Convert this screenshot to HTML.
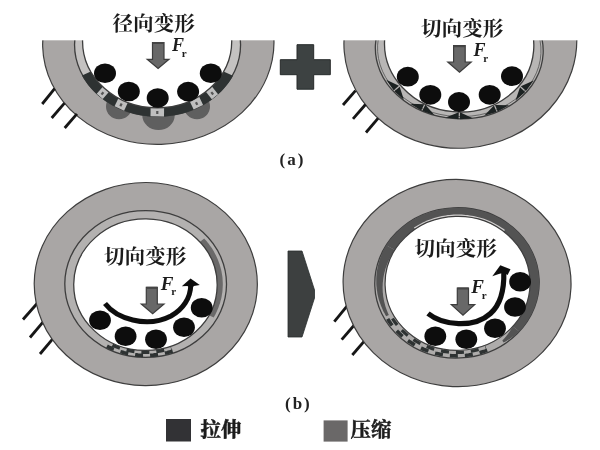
<!DOCTYPE html>
<html lang="zh"><head><meta charset="utf-8"><title>Bearing deformation diagram</title>
<style>html,body{margin:0;padding:0;background:#fff;}body{width:600px;height:450px;overflow:hidden;font-family:"Liberation Serif",serif;}svg{display:block;}</style>
</head><body>
<svg width="600" height="450" viewBox="0 0 600 450">
<defs><filter id="soft" x="0" y="0" width="600" height="450" filterUnits="userSpaceOnUse"><feGaussianBlur stdDeviation="0.55"/></filter></defs>
<rect width="600" height="450" fill="#fff"/>
<g filter="url(#soft)">
<rect x="-5" y="-5" width="610" height="460" fill="#fff"/>
<ellipse cx="158.31" cy="43.33" rx="115.68" ry="101.05" transform="rotate(-1.67 158.31 43.33)" fill="#a9a6a5" stroke="#3e3e3e" stroke-width="1.2"/>
<ellipse cx="119" cy="106.5" rx="13" ry="12.8" fill="#5f5e5e"/>
<ellipse cx="158.5" cy="115.3" rx="16.2" ry="14.7" fill="#5f5e5e"/>
<ellipse cx="197" cy="106.5" rx="13" ry="12.8" fill="#5f5e5e"/>
<ellipse cx="157.56" cy="44.83" rx="83.02" ry="71.23" fill="#c4c2c1" stroke="#3e3e3e" stroke-width="1.3"/>
<path d="M233.0 75.7 L231.0 79.2 L228.8 82.4 L226.4 85.6 L223.9 88.6 L221.2 91.5 L218.4 94.1 L215.4 96.7 L212.4 99.1 L209.3 101.3 L206.1 103.3 L202.8 105.2 L199.5 107.0 L196.1 108.6 L192.7 110.0 L189.2 111.3 L185.8 112.5 L182.3 113.5 L178.7 114.3 L175.2 115.0 L171.6 115.6 L168.0 116.1 L164.5 116.4 L160.9 116.6 L157.3 116.7 L153.7 116.6 L150.1 116.4 L146.6 116.0 L143.0 115.6 L139.4 115.0 L135.9 114.2 L132.4 113.3 L128.9 112.3 L125.4 111.1 L122.0 109.8 L118.6 108.4 L115.2 106.8 L111.9 105.0 L108.7 103.1 L105.5 101.1 L102.4 98.8 L99.4 96.5 L96.5 93.9 L93.7 91.2 L91.1 88.4 L88.5 85.4 L86.2 82.2 L84.0 79.0 L82.0 75.5 L90.8 71.6 L92.7 74.6 L94.6 77.4 L96.8 80.2 L99.0 82.8 L101.4 85.3 L103.8 87.7 L106.4 89.9 L109.0 92.0 L111.7 94.0 L114.5 95.8 L117.4 97.5 L120.3 99.0 L123.2 100.5 L126.2 101.8 L129.2 102.9 L132.3 103.9 L135.3 104.9 L138.4 105.6 L141.6 106.3 L144.7 106.8 L147.8 107.2 L151.0 107.5 L154.1 107.7 L157.3 107.8 L160.5 107.7 L163.6 107.5 L166.8 107.2 L169.9 106.8 L173.0 106.2 L176.1 105.6 L179.2 104.8 L182.3 103.9 L185.3 102.8 L188.3 101.6 L191.3 100.3 L194.3 98.9 L197.1 97.4 L200.0 95.7 L202.8 93.8 L205.5 91.9 L208.1 89.8 L210.6 87.5 L213.1 85.2 L215.4 82.7 L217.6 80.1 L219.7 77.3 L221.7 74.5 L223.5 71.5Z" fill="#2d3333"/>
<g transform="translate(102.9 92.8) rotate(-139.0)"><rect x="-4.0" y="-4.8" width="8" height="9.6" fill="#bfbfbf"/><rect x="-1.1" y="-2.2" width="2.2" height="3" fill="#555"/></g>
<g transform="translate(121.3 104.3) rotate(-154.9)"><rect x="-5.25" y="-4.6" width="10.5" height="9.2" fill="#bfbfbf"/><rect x="-1.1" y="-2.2" width="2.2" height="3" fill="#555"/></g>
<g transform="translate(157.3 111.9) rotate(-179.2)"><rect x="-6.75" y="-4.4" width="13.5" height="8.9" fill="#bfbfbf"/><rect x="-1.1" y="-2.2" width="2.2" height="3" fill="#555"/></g>
<g transform="translate(196.3 102.9) rotate(154.4)"><rect x="-5.25" y="-4.8" width="10.5" height="9.6" fill="#bfbfbf"/><rect x="-1.1" y="-2.2" width="2.2" height="3" fill="#555"/></g>
<g transform="translate(211.8 92.8) rotate(141.1)"><rect x="-4.0" y="-5.0" width="8" height="10.1" fill="#bfbfbf"/><rect x="-1.1" y="-2.2" width="2.2" height="3" fill="#555"/></g>
<ellipse cx="157.14" cy="40.96" rx="74.6" ry="66.81" fill="#fff" stroke="#3e3e3e" stroke-width="1.3"/>
<ellipse cx="105.0" cy="73.2" rx="11" ry="9.8" fill="#0e0e0e"/><ellipse cx="128.8" cy="91.5" rx="11" ry="9.8" fill="#0e0e0e"/><ellipse cx="157.7" cy="98.0" rx="11" ry="9.8" fill="#0e0e0e"/><ellipse cx="188.1" cy="91.6" rx="11" ry="9.8" fill="#0e0e0e"/><ellipse cx="210.8" cy="73.3" rx="11" ry="9.8" fill="#0e0e0e"/>
<ellipse cx="460.36" cy="41.83" rx="116.52" ry="106.33" transform="rotate(-5.04 460.36 41.83)" fill="#a9a6a5" stroke="#3e3e3e" stroke-width="1.2"/>
<ellipse cx="459.27" cy="49.4" rx="83.97" ry="69.38" transform="rotate(2.95 459.27 49.4)" fill="#b8b6b5" stroke="#3e3e3e" stroke-width="1.3"/>
<ellipse cx="459.27" cy="49.4" rx="81.77" ry="67.17999999999999" transform="rotate(2.95 459.27 49.4)" fill="none" stroke="#555" stroke-width="0.8"/>
<ellipse cx="459.17" cy="44.46" rx="74.7" ry="67.47" transform="rotate(4.91 459.17 44.46)" fill="#fff" stroke="#3e3e3e" stroke-width="1.3"/>
<g transform="translate(396.9 88.3) rotate(49.1)"><path d="M-0.6 -3.2 L-13.5 2.4 L-0.6 3.8Z M0.6 -3.2 L13.5 2.4 L0.6 3.8Z" fill="#1e2222"/></g>
<g transform="translate(423.4 107.4) rotate(25.2)"><path d="M-0.6 -3.2 L-13.5 2.4 L-0.6 3.8Z M0.6 -3.2 L13.5 2.4 L0.6 3.8Z" fill="#1e2222"/></g>
<g transform="translate(459.3 115.4) rotate(1.6)"><path d="M-0.6 -3.2 L-13.5 2.4 L-0.6 3.8Z M0.6 -3.2 L13.5 2.4 L0.6 3.8Z" fill="#1e2222"/></g>
<g transform="translate(495.7 108.3) rotate(337.5)"><path d="M-0.6 -3.2 L-13.5 2.4 L-0.6 3.8Z M0.6 -3.2 L13.5 2.4 L0.6 3.8Z" fill="#1e2222"/></g>
<g transform="translate(522.8 88.9) rotate(312.3)"><path d="M-0.6 -3.2 L-13.5 2.4 L-0.6 3.8Z M0.6 -3.2 L13.5 2.4 L0.6 3.8Z" fill="#1e2222"/></g>
<ellipse cx="407.8" cy="76.7" rx="11" ry="9.9" fill="#0e0e0e"/><ellipse cx="430.3" cy="94.8" rx="11" ry="9.9" fill="#0e0e0e"/><ellipse cx="459.0" cy="102.0" rx="11" ry="9.9" fill="#0e0e0e"/><ellipse cx="489.7" cy="94.8" rx="11" ry="9.9" fill="#0e0e0e"/><ellipse cx="512.0" cy="76.2" rx="11" ry="9.9" fill="#0e0e0e"/>
<rect x="0" y="0" width="600" height="40.3" fill="#fff"/>
<line x1="42.2" y1="104.0" x2="54.6" y2="88.7" stroke="#141414" stroke-width="2.8"/><line x1="51.7" y1="118.0" x2="64.5" y2="103.2" stroke="#141414" stroke-width="2.8"/><line x1="64.7" y1="128.0" x2="76.9" y2="113.8" stroke="#141414" stroke-width="2.8"/>
<path d="M152.5 42.5 H164 V59.3 H169 L158.1 68.5 L147.2 59.3 H152.5 Z" fill="#686868" stroke="#3c3c3c" stroke-width="1.2"/><rect x="152.5" y="42.0" width="11.5" height="2" fill="#444"/>
<g opacity="0.999"><text x="172" y="51" font-family="Liberation Serif, serif" font-weight="bold" font-style="italic" font-size="18" fill="#1a1a1a">F<tspan font-size="11" font-style="normal" dx="-2.2" dy="5.5">r</tspan></text></g>
<text x="112.5" y="31" font-family="'Liberation Serif', 'Noto Serif CJK SC', serif" font-weight="bold" font-size="20.6" fill="#1c1c1c">径向变形</text>
<path d="M297 44.7 H313.7 V59.7 H330.3 V74.7 H313.7 V89.2 H297 V74.7 H280.3 V59.7 H297 Z" fill="#3e4343" stroke="#262a2a" stroke-width="1"/>
<line x1="343.0" y1="105.0" x2="355.5" y2="90.7" stroke="#141414" stroke-width="2.8"/><line x1="353.0" y1="118.8" x2="365.5" y2="104.5" stroke="#141414" stroke-width="2.8"/><line x1="366.0" y1="132.5" x2="378.0" y2="118.3" stroke="#141414" stroke-width="2.8"/>
<path d="M453.6 45.7 H465.2 V62 H471.2 L459.5 72.2 L447.8 62 H453.6 Z" fill="#686868" stroke="#3c3c3c" stroke-width="1.2"/><rect x="453.6" y="45.2" width="11.599999999999966" height="2" fill="#444"/>
<g opacity="0.999"><text x="473.5" y="56" font-family="Liberation Serif, serif" font-weight="bold" font-style="italic" font-size="18" fill="#1a1a1a">F<tspan font-size="11" font-style="normal" dx="-2.2" dy="5.5">r</tspan></text></g>
<text x="421" y="36.3" font-family="'Liberation Serif', 'Noto Serif CJK SC', serif" font-weight="bold" font-size="20.6" fill="#1c1c1c">切向变形</text>
<text x="279.5" y="164.6" font-family="Liberation Serif, serif" font-weight="bold" font-size="17" letter-spacing="2" fill="#222">(a)</text>
<line x1="23.0" y1="319.5" x2="37.5" y2="303.0" stroke="#141414" stroke-width="2.8"/><line x1="30.0" y1="337.5" x2="43.8" y2="321.2" stroke="#141414" stroke-width="2.8"/><line x1="40.0" y1="354.0" x2="53.8" y2="337.7" stroke="#141414" stroke-width="2.8"/>
<ellipse cx="145.78" cy="284.07" rx="111.56" ry="101.55" transform="rotate(0.43 145.78 284.07)" fill="#a9a6a5" stroke="#3e3e3e" stroke-width="1.2"/>
<ellipse cx="145.66" cy="283.99" rx="80.85" ry="73.37" transform="rotate(0.16 145.66 283.99)" fill="#b3b1b0" stroke="#3e3e3e" stroke-width="1.3"/>
<path d="M204.2 238.5 L205.3 239.8 L206.5 241.1 L207.6 242.5 L208.7 243.8 L209.7 245.2 L210.8 246.7 L211.8 248.1 L212.7 249.6 L213.6 251.1 L214.5 252.7 L215.3 254.2 L216.1 255.8 L216.9 257.4 L217.6 259.0 L218.3 260.7 L218.9 262.4 L219.5 264.0 L220.0 265.7 L220.5 267.5 L221.0 269.2 L221.4 270.9 L221.7 272.7 L222.0 274.5 L222.3 276.2 L222.5 278.0 L222.6 279.8 L222.7 281.6 L222.8 283.4 L222.8 285.2 L222.7 287.0 L222.6 288.8 L222.5 290.6 L222.3 292.4 L222.0 294.1 L221.7 295.9 L221.4 297.7 L221.0 299.4 L220.5 301.1 L220.1 302.9 L219.5 304.6 L218.9 306.3 L218.3 307.9 L217.6 309.6 L216.9 311.2 L216.2 312.8 L215.4 314.4 L214.5 316.0 L213.7 317.5 L209.0 315.2 L209.8 313.8 L210.6 312.3 L211.3 310.9 L212.0 309.3 L212.7 307.8 L213.3 306.3 L213.8 304.7 L214.3 303.1 L214.8 301.6 L215.3 300.0 L215.7 298.3 L216.0 296.7 L216.3 295.1 L216.6 293.4 L216.8 291.8 L216.9 290.1 L217.1 288.5 L217.1 286.8 L217.2 285.1 L217.2 283.5 L217.1 281.8 L217.0 280.1 L216.8 278.5 L216.6 276.8 L216.4 275.2 L216.1 273.6 L215.8 271.9 L215.4 270.3 L215.0 268.7 L214.5 267.1 L214.0 265.5 L213.5 264.0 L212.9 262.4 L212.3 260.9 L211.6 259.4 L210.9 257.9 L210.2 256.5 L209.4 255.0 L208.6 253.6 L207.7 252.2 L206.8 250.8 L205.9 249.5 L205.0 248.1 L204.0 246.8 L203.0 245.6 L202.0 244.3 L200.9 243.1 L199.8 241.9Z" fill="#6a6969"/>
<ellipse cx="145.45" cy="284.71" rx="71.73" ry="65.75" transform="rotate(0.66 145.45 284.71)" fill="#fff" stroke="#3e3e3e" stroke-width="1.3"/>
<path d="M172.6 351.1 L171.2 351.5 L169.9 351.9 L168.5 352.3 L167.2 352.7 L165.8 353.0 L164.4 353.4 L163.1 353.7 L161.7 353.9 L160.3 354.2 L158.9 354.4 L157.5 354.6 L156.1 354.8 L154.7 354.9 L153.4 355.1 L152.0 355.2 L150.6 355.3 L149.2 355.4 L147.8 355.4 L146.4 355.4 L145.0 355.4 L143.6 355.4 L142.2 355.4 L140.8 355.3 L139.4 355.2 L138.0 355.1 L136.6 354.9 L135.2 354.8 L133.8 354.6 L132.4 354.4 L131.1 354.2 L129.7 353.9 L128.3 353.7 L126.9 353.4 L125.6 353.0 L124.2 352.7 L122.8 352.3 L121.5 351.9 L120.1 351.5 L118.8 351.1 L117.4 350.6 L116.1 350.2 L114.8 349.6 L113.5 349.1 L112.1 348.6 L110.8 348.0 L109.5 347.4 L108.3 346.8 L107.0 346.1" fill="none" stroke="#2d3333" stroke-width="3.6" stroke-dasharray="8 7"/>
<path d="M171.4 348.2 L170.1 348.6 L168.8 349.0 L167.5 349.4 L166.2 349.7 L164.9 350.1 L163.6 350.4 L162.3 350.7 L161.0 350.9 L159.7 351.2 L158.3 351.4 L157.0 351.6 L155.7 351.8 L154.4 351.9 L153.0 352.1 L151.7 352.2 L150.4 352.3 L149.0 352.3 L147.7 352.4 L146.3 352.4 L145.0 352.4 L143.7 352.4 L142.3 352.3 L141.0 352.3 L139.7 352.2 L138.3 352.1 L137.0 351.9 L135.7 351.8 L134.3 351.6 L133.0 351.4 L131.7 351.2 L130.4 350.9 L129.0 350.7 L127.7 350.4 L126.4 350.1 L125.1 349.8 L123.8 349.4 L122.5 349.0 L121.2 348.6 L119.9 348.2 L118.7 347.8 L117.4 347.3 L116.1 346.8 L114.9 346.3 L113.6 345.8 L112.4 345.2 L111.1 344.6 L109.9 344.0 L108.7 343.4" fill="none" stroke="#2d3333" stroke-width="3.2" stroke-dasharray="8 7" stroke-dashoffset="7.5"/>
<ellipse cx="100.0" cy="320.2" rx="10.9" ry="9.8" fill="#0e0e0e"/><ellipse cx="125.6" cy="336.3" rx="10.9" ry="9.8" fill="#0e0e0e"/><ellipse cx="156.0" cy="339.3" rx="10.9" ry="9.8" fill="#0e0e0e"/><ellipse cx="184.0" cy="327.3" rx="10.9" ry="9.8" fill="#0e0e0e"/><ellipse cx="201.7" cy="307.7" rx="10.9" ry="9.8" fill="#0e0e0e"/>
<path d="M105 303.5 C 116 318, 146 328.8, 171 316 C 183 309.5, 190.5 298, 190.8 285" fill="none" stroke="#111" stroke-width="5"/>
<path d="M181.8 286.3 L190.6 278.6 L199.8 285 L194 286 L190.8 289 L187.4 286 Z" fill="#111"/>
<path d="M146.3 287.3 H157.3 V304 H164 L152.65 313.6 L141.3 304 H146.3 Z" fill="#686868" stroke="#3c3c3c" stroke-width="1.2"/><rect x="146.3" y="286.8" width="11.0" height="2" fill="#444"/>
<g opacity="0.999"><text x="160.8" y="289.6" font-family="Liberation Serif, serif" font-weight="bold" font-style="italic" font-size="19" fill="#1a1a1a">F<tspan font-size="11" font-style="normal" dx="-2.2" dy="5.5">r</tspan></text></g>
<text x="104" y="264.2" font-family="'Liberation Serif', 'Noto Serif CJK SC', serif" font-weight="bold" font-size="20.6" fill="#1c1c1c">切向变形</text>
<path d="M288 251 H302 L314.5 290 V298 L302 337 H288 Z" fill="#3c4040" stroke="#2a2d2d" stroke-width="0.8"/>
<line x1="334.3" y1="321.7" x2="347.8" y2="305.2" stroke="#141414" stroke-width="2.8"/><line x1="341.7" y1="339.7" x2="355.2" y2="324.0" stroke="#141414" stroke-width="2.8"/><line x1="352.3" y1="355.0" x2="365.8" y2="339.3" stroke="#141414" stroke-width="2.8"/>
<ellipse cx="457.07" cy="283.05" rx="113.99" ry="103.57" transform="rotate(2.4 457.07 283.05)" fill="#a9a6a5" stroke="#3e3e3e" stroke-width="1.2"/>
<ellipse cx="456.98" cy="282.9" rx="82.22" ry="75.12" transform="rotate(-2.46 456.98 282.9)" fill="#aeacab" stroke="#3e3e3e" stroke-width="1.3"/>
<path d="M386.1 245.3 L389.3 240.7 L392.8 236.4 L396.6 232.4 L400.6 228.6 L404.8 225.2 L409.2 222.1 L413.8 219.3 L418.5 216.8 L423.3 214.6 L428.3 212.7 L433.3 211.1 L438.4 209.9 L443.5 208.9 L448.7 208.2 L453.8 207.8 L459.1 207.8 L464.3 208.0 L469.4 208.5 L474.6 209.4 L479.7 210.5 L484.8 212.0 L489.8 213.8 L494.6 215.8 L499.4 218.3 L504.0 221.0 L508.5 224.0 L512.8 227.4 L516.9 231.0 L520.7 235.0 L524.2 239.2 L527.5 243.7 L530.4 248.5 L532.9 253.5 L535.0 258.7 L536.7 264.1 L538.0 269.6 L538.8 275.2 L539.2 280.8 L539.1 286.5 L538.5 292.1 L537.5 297.7 L536.0 303.1 L534.1 308.4 L531.8 313.5 L529.2 318.3 L526.2 323.0 L522.9 327.4 L519.3 331.5 L512.8 326.4 L515.9 322.7 L518.8 318.8 L521.5 314.6 L523.8 310.2 L525.8 305.6 L527.4 300.9 L528.6 296.0 L529.5 291.1 L529.9 286.1 L530.0 281.1 L529.6 276.1 L528.9 271.1 L527.7 266.3 L526.2 261.5 L524.3 256.9 L522.0 252.5 L519.4 248.2 L516.6 244.2 L513.4 240.5 L510.1 237.0 L506.5 233.7 L502.7 230.8 L498.7 228.1 L494.6 225.6 L490.4 223.5 L486.1 221.7 L481.6 220.1 L477.2 218.8 L472.6 217.8 L468.1 217.0 L463.5 216.6 L458.9 216.4 L454.2 216.5 L449.7 216.8 L445.1 217.4 L440.5 218.3 L436.1 219.5 L431.7 220.9 L427.3 222.6 L423.1 224.6 L418.9 226.8 L414.9 229.4 L411.1 232.2 L407.4 235.2 L403.9 238.5 L400.7 242.1 L397.7 245.9 L394.9 249.9Z" fill="#525253"/>
<path d="M386.2 316.3 L385.4 315.0 L384.7 313.6 L383.9 312.3 L383.2 310.9 L382.6 309.5 L382.0 308.1 L381.4 306.7 L380.8 305.3 L380.3 303.8 L379.8 302.4 L379.3 300.9 L378.8 299.4 L378.4 297.9 L378.1 296.4 L377.7 294.9 L377.4 293.4 L377.2 291.8 L376.9 290.3 L376.7 288.8 L376.6 287.2 L376.4 285.7 L376.3 284.1 L376.3 282.5 L376.3 281.0 L376.3 279.4 L376.3 277.9 L376.4 276.3 L376.5 274.7 L376.7 273.2 L376.9 271.6 L377.1 270.1 L377.4 268.5 L377.7 267.0 L378.0 265.5 L378.4 263.9 L378.8 262.4 L379.2 260.9 L379.7 259.4 L380.2 258.0 L380.8 256.5 L381.3 255.0 L381.9 253.6 L382.6 252.2 L383.2 250.8 L383.9 249.4 L384.6 248.0 L385.4 246.6 L386.1 245.3 L394.9 249.9 L394.1 251.1 L393.4 252.2 L392.6 253.4 L391.9 254.5 L391.2 255.7 L390.5 257.0 L389.8 258.2 L389.2 259.4 L388.6 260.7 L388.0 262.0 L387.5 263.3 L387.0 264.6 L386.5 265.9 L386.0 267.2 L385.5 268.6 L385.1 269.9 L384.8 271.3 L384.4 272.7 L384.1 274.1 L383.8 275.5 L383.5 276.9 L383.3 278.3 L383.1 279.7 L383.0 281.2 L382.8 282.6 L382.7 284.0 L382.7 285.5 L382.6 286.9 L382.6 288.3 L382.7 289.8 L382.7 291.2 L382.8 292.7 L383.0 294.1 L383.1 295.6 L383.3 297.0 L383.6 298.4 L383.8 299.9 L384.1 301.3 L384.5 302.7 L384.8 304.1 L385.2 305.5 L385.6 306.9 L386.1 308.3 L386.6 309.7 L387.1 311.0 L387.7 312.4 L388.2 313.7 L388.8 315.0Z" fill="#525253"/>
<path d="M519.3 331.5 L519.0 331.8 L518.6 332.0 L518.3 332.3 L518.0 332.6 L517.7 332.8 L517.4 333.1 L517.1 333.4 L516.8 333.6 L516.5 333.9 L516.2 334.1 L515.9 334.4 L515.6 334.6 L515.2 334.9 L514.9 335.1 L514.6 335.4 L514.3 335.6 L514.0 335.9 L513.7 336.1 L513.3 336.4 L513.0 336.6 L512.7 336.8 L512.4 337.1 L512.0 337.3 L511.7 337.5 L511.4 337.7 L511.1 338.0 L510.7 338.2 L510.4 338.4 L510.1 338.6 L509.8 338.9 L509.4 339.1 L509.1 339.3 L508.8 339.5 L508.4 339.7 L508.1 339.9 L507.8 340.1 L507.4 340.3 L507.1 340.6 L506.8 340.8 L506.4 341.0 L506.1 341.2 L505.7 341.4 L505.4 341.5 L505.1 341.7 L504.7 341.9 L504.4 342.1 L504.1 342.3 L503.7 342.5 L502.2 340.6 L502.5 340.4 L502.8 340.1 L503.0 339.8 L503.3 339.5 L503.5 339.3 L503.8 339.0 L504.0 338.7 L504.3 338.4 L504.5 338.1 L504.8 337.9 L505.0 337.6 L505.3 337.3 L505.5 337.0 L505.7 336.7 L506.0 336.4 L506.2 336.2 L506.4 335.9 L506.7 335.6 L506.9 335.3 L507.1 335.0 L507.3 334.7 L507.6 334.4 L507.8 334.1 L508.0 333.8 L508.2 333.5 L508.5 333.2 L508.7 332.9 L508.9 332.6 L509.1 332.3 L509.3 332.0 L509.5 331.7 L509.7 331.4 L509.9 331.1 L510.1 330.8 L510.3 330.5 L510.5 330.2 L510.7 329.9 L510.9 329.6 L511.1 329.3 L511.3 328.9 L511.5 328.6 L511.7 328.3 L511.9 328.0 L512.0 327.7 L512.2 327.4 L512.4 327.1 L512.6 326.7 L512.8 326.4Z" fill="#525253"/>
<path d="M413.9 227.6 L415.7 226.5 L417.4 225.4 L419.2 224.4 L421.0 223.4 L422.8 222.5 L424.6 221.7 L426.5 220.8 L428.4 220.1 L430.2 219.4 L432.1 218.7 L434.1 218.1 L436.0 217.5 L437.9 217.0 L439.9 216.5 L441.8 216.1 L443.8 215.7 L445.8 215.4 L447.7 215.1 L449.7 214.9 L451.7 214.7 L453.7 214.6 L455.7 214.5 L457.7 214.5 L459.7 214.5 L461.7 214.6 L463.7 214.7 L465.7 214.9 L467.7 215.1 L469.7 215.4 L471.6 215.7 L473.6 216.0 L475.6 216.5 L477.5 216.9 L479.5 217.5 L481.4 218.0 L483.3 218.6 L485.3 219.3 L487.2 220.0 L489.0 220.8 L490.9 221.6 L492.8 222.5 L494.6 223.4 L496.4 224.4 L498.2 225.4 L499.9 226.5 L501.7 227.7 L503.4 228.8 L505.0 230.1 L503.7 231.5 L502.1 230.3 L500.4 229.2 L498.8 228.1 L497.0 227.0 L495.3 226.0 L493.6 225.1 L491.8 224.2 L490.0 223.3 L488.2 222.5 L486.3 221.8 L484.5 221.1 L482.6 220.4 L480.8 219.8 L478.9 219.3 L477.0 218.8 L475.1 218.3 L473.2 217.9 L471.2 217.5 L469.3 217.2 L467.4 217.0 L465.4 216.7 L463.5 216.6 L461.6 216.5 L459.6 216.4 L457.7 216.4 L455.7 216.4 L453.8 216.5 L451.9 216.6 L449.9 216.8 L448.0 217.0 L446.1 217.3 L444.2 217.6 L442.3 218.0 L440.4 218.4 L438.5 218.8 L436.6 219.3 L434.7 219.9 L432.9 220.5 L431.0 221.2 L429.2 221.9 L427.4 222.6 L425.6 223.4 L423.8 224.2 L422.0 225.1 L420.3 226.1 L418.6 227.1 L416.9 228.1 L415.2 229.2Z" fill="#cfcdcc"/>
<ellipse cx="457.54" cy="283.33" rx="72.47" ry="66.94" transform="rotate(-1.75 457.54 283.33)" fill="#fff" stroke="#3e3e3e" stroke-width="1.2"/>
<path d="M487.2 350.3 L484.9 351.1 L482.7 351.8 L480.4 352.5 L478.1 353.2 L475.7 353.7 L473.4 354.2 L471.0 354.6 L468.7 355.0 L466.3 355.3 L464.0 355.5 L461.6 355.7 L459.2 355.8 L456.8 355.9 L454.4 355.8 L452.1 355.7 L449.7 355.6 L447.3 355.4 L444.9 355.1 L442.6 354.7 L440.2 354.3 L437.9 353.8 L435.5 353.3 L433.2 352.6 L430.9 351.9 L428.6 351.2 L426.3 350.3 L424.0 349.5 L421.8 348.5 L419.6 347.5 L417.4 346.4 L415.2 345.2 L413.1 343.9 L411.0 342.6 L408.9 341.2 L406.9 339.8 L404.9 338.3 L403.0 336.7 L401.1 335.0 L399.3 333.3 L397.5 331.5 L395.8 329.7 L394.1 327.8 L392.5 325.8 L390.9 323.8 L389.5 321.7 L388.1 319.5 L386.8 317.3 L385.5 315.1" fill="none" stroke="#2d3333" stroke-width="3.6" stroke-dasharray="8 7"/>
<path d="M485.8 347.2 L483.7 347.9 L481.5 348.7 L479.3 349.3 L477.1 349.9 L474.9 350.5 L472.6 350.9 L470.4 351.3 L468.2 351.7 L465.9 352.0 L463.6 352.2 L461.4 352.3 L459.1 352.4 L456.8 352.4 L454.6 352.4 L452.3 352.3 L450.0 352.2 L447.8 351.9 L445.5 351.6 L443.3 351.3 L441.0 350.9 L438.8 350.4 L436.6 349.9 L434.4 349.2 L432.2 348.6 L430.0 347.8 L427.8 347.0 L425.7 346.2 L423.6 345.2 L421.5 344.2 L419.4 343.2 L417.4 342.0 L415.4 340.8 L413.4 339.6 L411.4 338.3 L409.5 336.9 L407.7 335.4 L405.8 333.9 L404.1 332.3 L402.3 330.7 L400.7 329.0 L399.0 327.2 L397.5 325.4 L396.0 323.5 L394.5 321.6 L393.2 319.6 L391.9 317.5 L390.6 315.4 L389.5 313.3" fill="none" stroke="#2d3333" stroke-width="3.2" stroke-dasharray="8 7" stroke-dashoffset="7.5"/>
<ellipse cx="435.3" cy="336.3" rx="10.9" ry="9.8" fill="#0e0e0e"/><ellipse cx="466.3" cy="339.3" rx="10.9" ry="9.8" fill="#0e0e0e"/><ellipse cx="495.0" cy="328.3" rx="10.9" ry="9.8" fill="#0e0e0e"/><ellipse cx="515.0" cy="307.0" rx="10.9" ry="9.8" fill="#0e0e0e"/><ellipse cx="520.1" cy="281.8" rx="10.9" ry="9.8" fill="#0e0e0e"/>
<path d="M428 313.5 C 443 325.5, 474 328.5, 490.5 313.5 C 500.5 304.5, 504.3 290, 503.8 272" fill="none" stroke="#111" stroke-width="5.2"/>
<path d="M492.3 276.3 L500.3 265.3 L510.5 269.3 L507.6 275 L503.8 272.8 L498.8 274 Z" fill="#111"/>
<path d="M457.3 288 H468.5 V304.7 H474.7 L463.0 315.3 L451.3 304.7 H457.3 Z" fill="#686868" stroke="#3c3c3c" stroke-width="1.2"/><rect x="457.3" y="287.5" width="11.199999999999989" height="2" fill="#444"/>
<g opacity="0.999"><text x="471.2" y="293.4" font-family="Liberation Serif, serif" font-weight="bold" font-style="italic" font-size="19" fill="#1a1a1a">F<tspan font-size="11" font-style="normal" dx="-2.2" dy="5.5">r</tspan></text></g>
<text x="414.5" y="255.8" font-family="'Liberation Serif', 'Noto Serif CJK SC', serif" font-weight="bold" font-size="20.6" fill="#1c1c1c">切向变形</text>
<text x="285" y="409" font-family="Liberation Serif, serif" font-weight="bold" font-size="17" letter-spacing="2" fill="#222">(b)</text>
<rect x="166" y="419" width="25" height="22.5" fill="#323234"/>
<text x="200.6" y="437.4" font-family="'Liberation Serif', 'Noto Serif CJK SC', serif" font-weight="bold" font-size="20.4" fill="#1c1c1c" stroke="#1c1c1c" stroke-width="0.5">拉伸</text>
<rect x="323.6" y="420.4" width="24" height="21.2" fill="#6b6767"/>
<text x="350.6" y="437.4" font-family="'Liberation Serif', 'Noto Serif CJK SC', serif" font-weight="bold" font-size="20.4" fill="#1c1c1c" stroke="#1c1c1c" stroke-width="0.5">压缩</text>
</g>
</svg>
</body></html>
